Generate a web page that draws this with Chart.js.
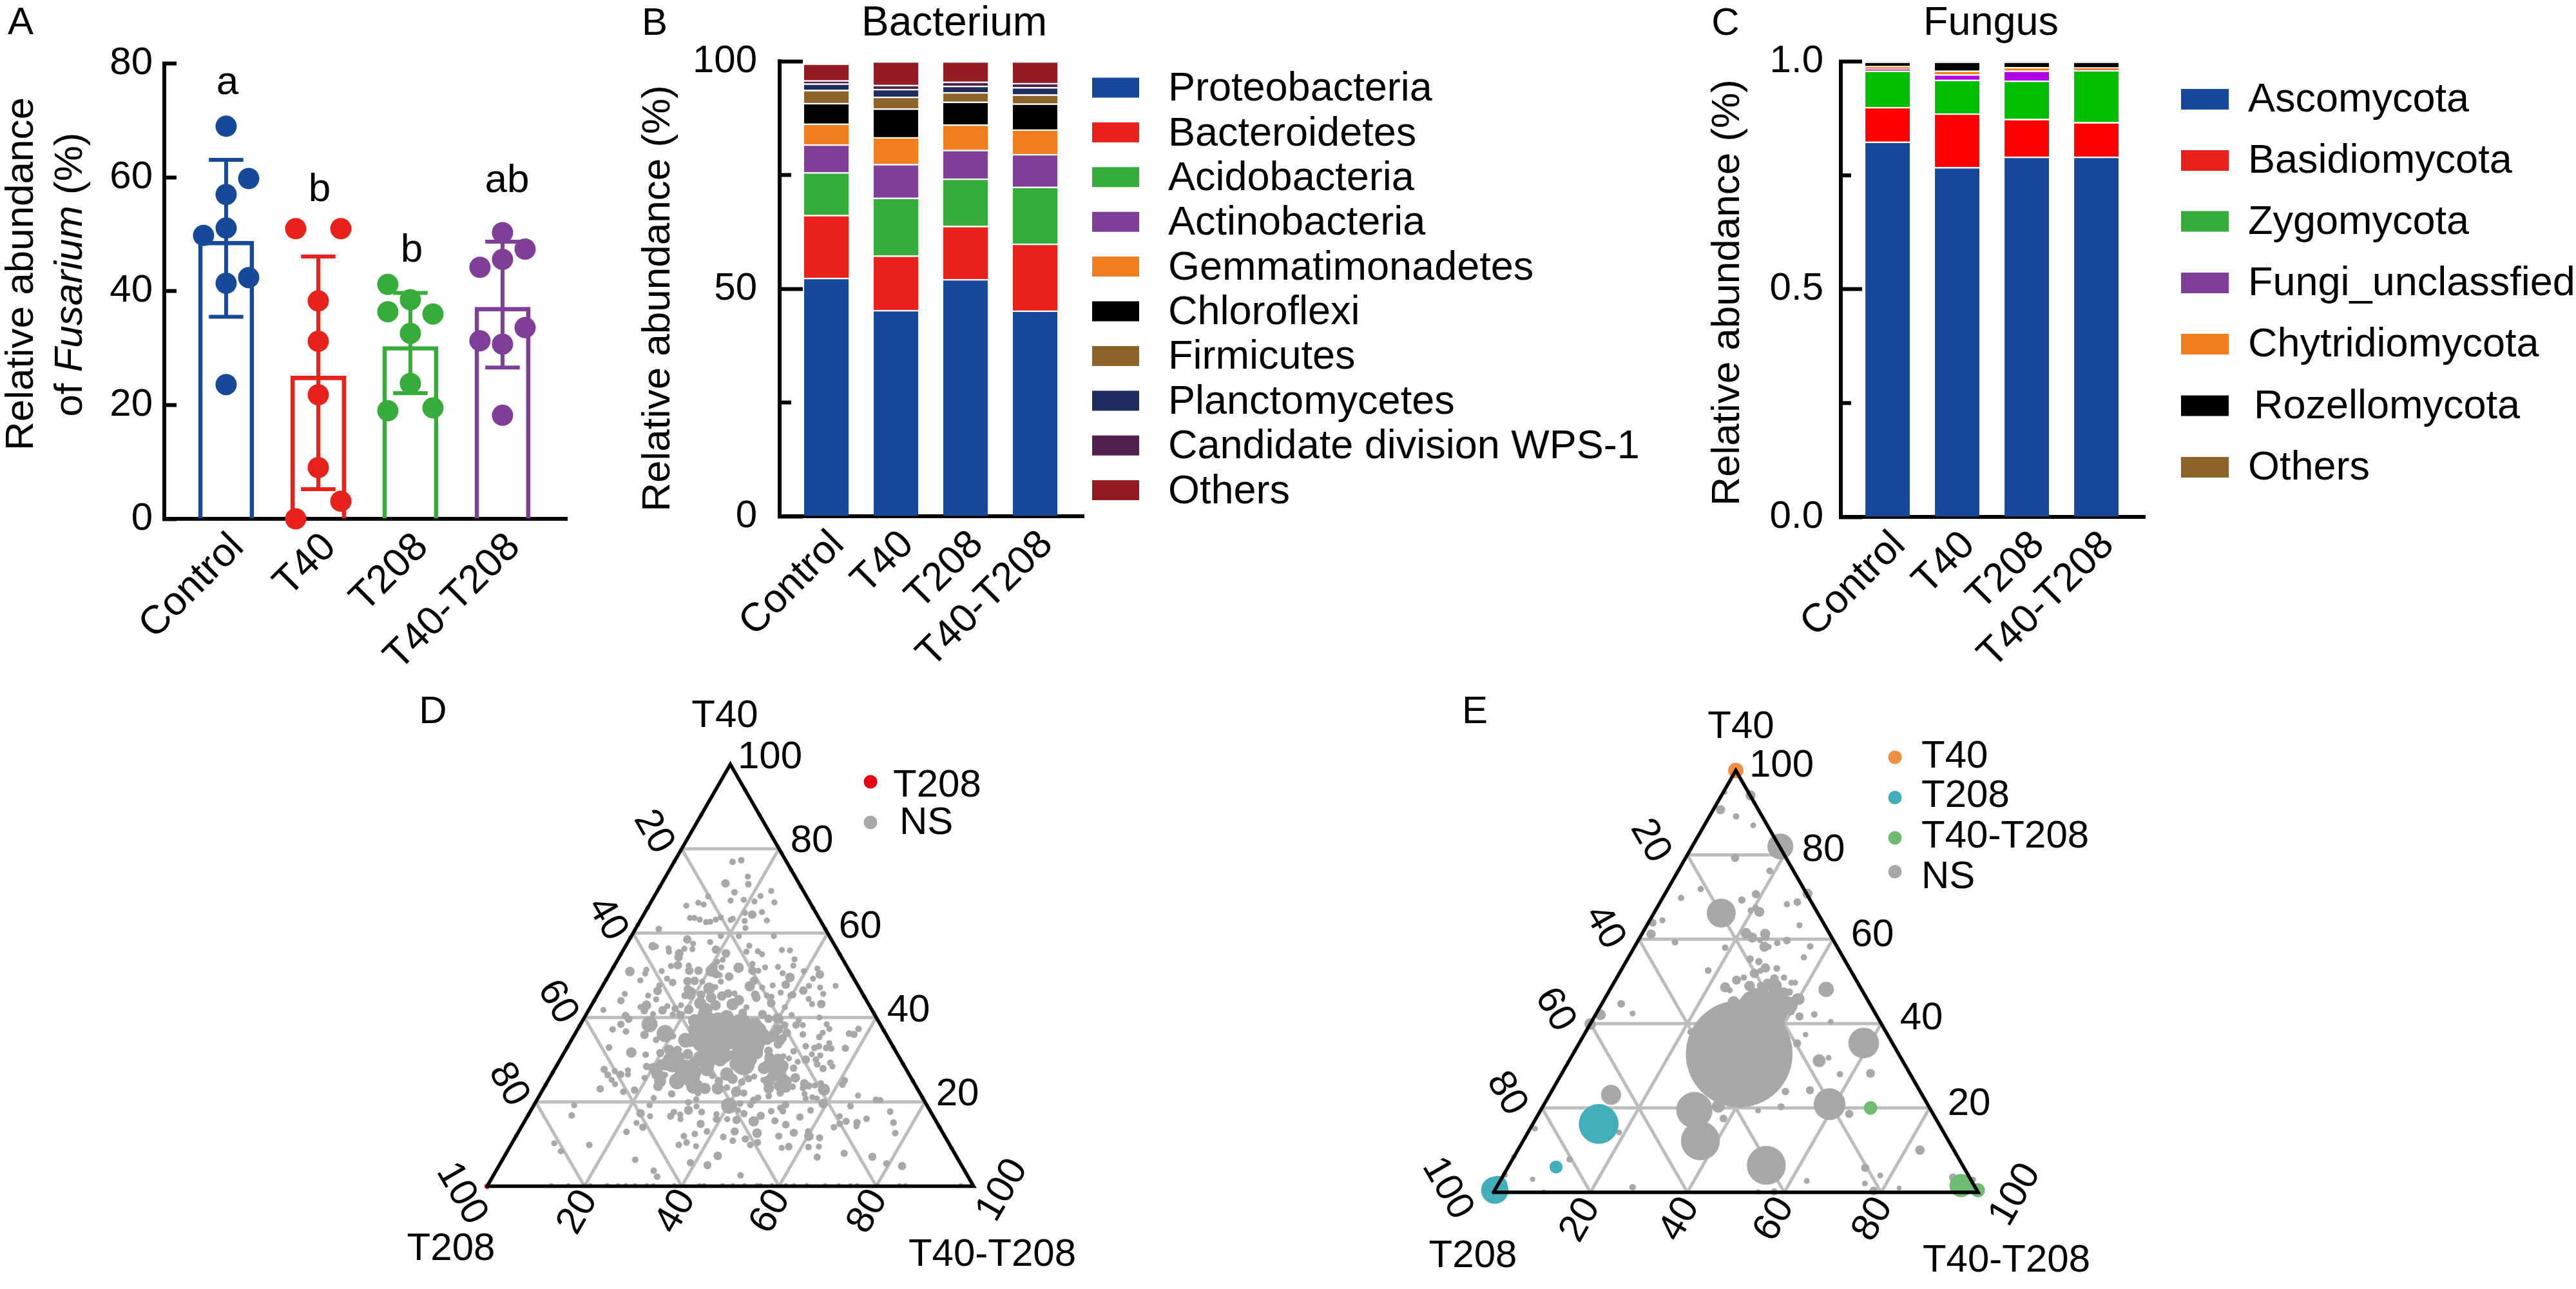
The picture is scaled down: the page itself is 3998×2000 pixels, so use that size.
<!DOCTYPE html>
<html><head><meta charset="utf-8">
<script src="https://cdn.jsdelivr.net/npm/chart.js@4"></script>
<style>html,body{margin:0;padding:0;background:#fff;width:3998px;height:2000px;overflow:hidden}canvas{position:absolute}</style>
</head><body>
<script>
const treatments = ['Control','T40','T208','T40-T208'];
const fusariumMean = [48.8,25.1,30.3,37.2];
const fusariumHigh = [63.1,46.1,39.7,48.7];
const fusariumLow = [35.5,5.2,22.1,26.6];
const fusariumDots = [
 [69,59.8,57,51.1,49.8,42.4,41.4,23.6],
 [51,51,38.3,31.2,21.8,9,3.1,0],
 [41.2,38.5,36.4,36,32.6,23.8,19,19.5],
 [50.3,47.4,45.6,44.2,33.6,31.3,30.7,18.2]];
const fusariumSlots = [
 [0,1,0,0,-1,1,0,0],[-1,1,0,0,0,0,1,-1],[-1,0,-1,1,0,0,-1,1],[0,1,0,-1,1,-1,0,0]];
const significance = ['a','b','b','ab'];

const bacteriaNames = ['Proteobacteria','Bacteroidetes','Acidobacteria','Actinobacteria','Gemmatimonadetes','Chloroflexi','Firmicutes','Planctomycetes','Candidate division WPS-1','Others'];
const bacteriaValues = [
 [52.4,45.3,52.1,45.2],[13.8,12.0,11.7,14.7],[9.4,12.7,10.4,12.5],[6.1,7.4,6.3,7.2],[4.6,5.9,5.6,5.4],
 [4.5,6.3,5.0,5.7],[2.9,2.6,2.1,2.0],[1.4,1.7,1.4,1.6],[0.7,0.9,0.9,0.9],[3.7,5.2,4.5,4.8]];
const fungiNames = ['Ascomycota','Basidiomycota','Zygomycota','Fungi_unclassfied','Chytridiomycota','Rozellomycota','Others'];
const fungiValues = [
 [.824,.768,.791,.791],[.076,.118,.083,.076],[.080,.074,.084,.114],[.004,.012,.022,.001],
 [.006,.008,.008,.005],[.010,.020,.012,.013],[0,0,0,0]];
const ternaryGrid = [20,40,60,80];

// [T40 %, T40-T208 %, abundance]
const bactT208 = [[0,0,.8]];
const bactCore = [
[37.7,24.9,5],[39.7,25.8,5],[37.2,28.9,5],[38.2,30.2,5],[37.7,32,5],[39.2,33.1,5],[36.7,35.8,5],[37.2,37.4,5],[35.1,39.9,5],[33.6,38.2,5],[31.6,37.3,5],[31.1,35.7,5],[34.1,33.3,5],[34.1,31.4,5],[35.1,29,5],[36.2,26.5,5],[37.2,24.1,5],[34.6,24.5,5],[33.6,26.9,5],[32.1,29.6,5],[30,32.9,5],[30,31,5],[30.5,28.5,5],[29,36.7,5],[30,39.1,5],[33.1,39,5],[35.6,41,4],[37.2,41.2,3],[34.6,42.9,3],
[28.5,43.6,5],[26.5,46,4],[28.5,46.5,4],[30,44.8,4],[24.9,45.4,4],[24.9,49.1,3],[23.9,48.2,4],
[27.5,21,4],[26,22.6,4],[27.5,27,4],[27,29.2,5],[24.9,29.4,5],[23.9,31.2,4],[28.5,27,4],[29,22.5,5],[30.5,24.1,4],[27.5,31.4,4]];
const bactNS = [
[77.3,13.6,1.2],[76.9,12,1.2],[73.4,16.9,1],[71.6,17.9,1.2],[71.8,13.1,2],[69.7,16,1.2],[70,23.4,1],[68.8,21.8,1],[67.3,25.4,1],[68.7,11.1,1],[67.7,16.2,1],[67.9,18.8,1],[67.5,21.2,1],[67.2,9.8,1],[66.8,11.1,1],[66.5,7.7,1],[65,24,1],[64.8,20.6,1],[64.4,22.3,2],[63,26,1],[62.9,21.5,1],[61.2,22.5,1],[63.6,9.9,1],[63.6,10.8,1],[63.2,12.1,1],[62.6,13.7,1],[62.7,14.5,1],[63.2,15.4,1],[63.7,16.2,1],[63.1,18.5,1],[63.4,18.8,1],[61,4.8,1.2],[59.3,29.3,1],[59.3,22.1,1],[59.3,18.4,1],[58.5,11.9,2],[57.5,13.6,1],[57.9,16.9,1],[56.9,5.6,2],[56.8,6.3,1],[56.4,9.1,1],[55.6,9.6,1],[56.3,12.4,1],[56.2,14.1,1],[55.2,11.9,2],[54.3,12.2,2],[56.1,19,2],[55.2,21.5,2],[57,25.4,1],[55.6,25.5,1],[55.7,27.8,1],[55,29,1],[56,32.6,1],[55.9,34.3,1],[53.8,36.3,1],[52.3,36.8,1],[52,33.8,1],[51.9,31.2,1],[52.7,28.2,1],[51.8,25.8,3],[51.9,22.2,1],[53.7,21.6,1],[53.2,20.7,1],[51.1,20.6,4],[52,20.5,2],[50.3,21.9,2],[50,22.8,1],[48.5,23.8,1],[49.7,24.9,2],[51.1,17.9,2],[52.3,15.3,1],[51.1,16,2],[52.4,13,2],[52.2,11.7,1],[51,10.4,1],[50.9,3.9,2.5],[51.3,7.1,1],[50.4,7.3,1],[48.8,7.1,1],[49.2,12.4,1],[48.3,14,1.5],[48.6,16.9,2],[48.7,18.3,2],[48.5,20,1],[51.1,29,2],[51.1,30.2,1],[50.5,35.5,1],[49.5,37.5,2.5],[51,39.6,1],[51.6,42.1,1],[50.2,43.3,2],[49.2,42.4,1],[47.5,47.9,1],[47.1,44.9,1],[47.5,42.4,1],[46.4,41.8,2],[45.6,46.3,1],[47.8,37.5,2],[47.6,34.9,1],[48.7,30.5,2],[47.4,30.3,3],[47.1,33,1],[45.9,37.4,1],[45.4,40.1,1.5],[44.4,43.9,1],[43.2,45.2,1],[43.2,47.1,2],[40,48.3,1],[47.6,11.6,1],[46.3,11.9,2],[45.2,10.5,1],[44.3,12.6,1],[45.6,5.5,1],[44,5.5,1.5],[41.8,3,1],[42.7,15.7,1],[41.7,15.2,2],[42.9,11.3,2.5],[42.5,10.3,1],[41.6,11.5,1.5],[40.8,13.7,1],[40.5,8.2,1.5],[39.6,9.3,1.5],[42.9,18.4,1],[42.1,17.6,1.5],[41.9,20.5,2.5],[40.6,19.4,2],[40.7,17.8,1],[46.7,17.9,2],[46.2,18.9,2],[45.2,18.1,1.5],[45.2,19.2,2],[46.9,22.2,4],[47.2,23.3,1],[45.4,21.3,2],[44.7,23.7,3],[43.4,22.1,4],[41.9,24,5],[42.9,25.5,3],[45.1,25.7,2.5],[45.7,26.7,2],[45.7,28,1],[44.1,29.7,3],[43.1,28.9,4],[45.4,32.4,2],[44.7,33,2],[45.2,34.9,1],[43.4,36.7,2],[44.9,36,1],[45.2,39.7,1],[42.4,40,1],[39.8,39.8,3],[40.8,36.2,2],[40.6,42.3,1],[42.4,32.1,1],[41.1,32,2],
[39.2,23.1,5],[40.7,24.3,5],[37.7,26.8,7],[39.2,27.9,8],[40.2,29.2,5],[36.7,30.1,8],[35.6,25.4,7],[34.6,23.5,6],[34.1,28,7],[32.1,31,12],[39.2,32.1,5],[37.2,34.5,8],[36.2,33.1,8],[38.2,35.9,6],[35.6,38.6,8],[34.6,36.8,8],[33.1,35.6,7],[32.1,38,7],[29,38.2,14],[31.6,39.7,4],[34.1,32.7,5],[31.1,33.3,6],[28.5,30.9,6],[29.3,28,4],[29,26.3,2],[29.5,23.4,12],[32.3,21.3,3],[32.3,23,2],[31.3,25.6,3],[28.8,21.5,3.5],[28,20.2,3],[28.4,18.6,1.5],[26.5,21.6,3],[24.9,23.1,4],[23.7,23.3,2.5],[26.4,23.4,1],[24.9,26.6,7],[26.6,26,1.5],[26,29,8],[23.7,30.6,6],[22.1,32.3,1.2],[23.2,33.2,3.5],[23.2,35.8,4],[24.9,35.2,2],[26.6,36,5],[25.5,37.7,3],[26.2,33.2,1.2],[22.4,40,3],[22.1,41.7,1.5],[23.4,37.6,1.2],[24.7,40,1.5],[25.5,41,1.5],[26,41.9,1],[25.2,44.2,1],[23.2,46.3,3],[21.4,47.2,1.2],[22.1,49.2,1.5],[23.4,49.7,3],[23.6,51,1.2],[25.7,50.5,2.5],[25.7,47.9,3],[26,45.6,3],[28,45.8,9],[28,42.9,4],[30.5,42.8,3],[32.1,41.8,2],[30.8,45.5,1],[30.3,46.9,1],[28,49,1.5],[32,47,1.2],[29.5,49.1,1],[30,50.5,2],[33.2,48.9,1.2],[32.8,50.9,1.2],[33.2,51.6,1.2],[31.3,51.1,1],[31,53,1],[30,52.6,1.2],[28.9,53.4,1.2],[27.9,55.1,1.5],[29.3,55.9,1.2],[28.4,56.8,1],[32.8,53.3,1.2],[32.7,54.4,1.2],[33.9,53.4,1],[32.7,57.3,1.5],[35.4,50.6,1.2],[36.4,50.8,1],[37.3,51.7,1],[38.4,50.6,1],[36,46.9,1.2],[38.2,45.8,1],[38.2,44.4,1.5],[39.3,44.4,1],[36.2,56.3,1.2],[36,57.4,1.5],[37.3,57.7,1.2],[36.4,43.4,2],[33.6,43,2],[35.1,43.2,2],[36.2,40.9,1.2],[39.7,40,3],[39.7,38,2],[40.7,36.1,1.2],[38.2,42.1,1.5],
[38.4,14.2,7],[36.2,18.5,8],[35.9,14.4,2],[34.7,17.4,1.2],[35.6,20.4,1.2],[40.4,8.3,1.5],[39.6,9.3,1.5],[38.4,8.3,1.5],[37.2,7.2,1.2],[36.7,10.2,1.2],[32.9,8.6,1.2],[31.7,13.8,3],[31.2,17,1.2],[31.6,19.8,1.8],[27.7,10.2,1.5],[26.4,11.6,1.3],[25.2,13,1],[24.2,14.2,1],[27.3,12.6,1],[26.5,14.2,1.5],[27.5,15.2,1],[26.5,15.7,1],[23.1,11.7,1.5],[22.4,16.8,1.2],[22.8,18.9,1.5],[25.7,19.5,1],[21.9,27,1.5],[20.9,23.8,1],[20.6,32.7,1],[19.9,31.4,1.2],[18.9,33.6,1],[19.2,23.8,1],[19.2,8.3,1],[16.8,9,1.2],[17.3,22.9,2],[16.6,25.2,1],[15,23.2,1],[14,25,1.5],[12.9,22.2,1.2],[9.8,16.1,1.2],[10.2,8.7,1],[8.3,11,1],[6.3,27.3,1.2],[3.7,32.4,1.2],[2.3,33.8,1.2],[5.6,39,1.5],[5,42.8,1.8],[7.2,43.8,2],[2.6,50.8,1.2],[9.8,34.5,1.2],[10.4,35.8,1.2],[11.9,34.5,1.2],[12.4,36.5,1.2],[9.5,38.2,1],[13,38.7,1.2],[14.8,36.5,1.8],[17.6,35.3,1.3],[18,32.4,2.2],[17.6,29.6,1.2],[16.6,29.4,1.4],[17,31.2,1],[15.9,31.8,1],[17.1,38.6,1],[15.9,39.2,1.5],[15.9,41.4,1],[19.1,40.2,7],[18,42.6,1],[19.6,42.2,1.2],[17.2,44.2,1.5],[15.7,43.4,1.8],[13,44.4,1.8],[11.7,42.7,1.2],[10.8,45.1,1.2],[11.2,47.5,1.5],[9.8,49.2,1.2],[10.4,50.4,1.4],[12.6,49.2,2.5],[15.4,47.1,3],[16.7,47.9,1.8],[19.3,44.5,1.2],[20.4,44.6,1.5],[21,45.2,1.2],[17.8,49.5,1.2],[15.5,51.4,1.4],[18.6,51,1.2],[17.8,51.9,1.2],[19.3,51.7,1.5],[14.6,54.1,1.6],[16.4,56.1,1.5],[18,57.5,1.2],[11.9,54,1.4],[12.7,56.7,1.8],[9.4,57.3,1.6],[9.1,56,1],[13,59.5,1.2],[11.9,60.2,2.5],[11.5,62.6,1.4],[9.3,61.4,1.2],[9.4,63.5,1],[6.9,64.4,1.4],[7.8,69.5,1.4],[7,75.7,1.8],[5.4,79.4,1.2],[4.8,82.9,1.8],[14,64.3,1.2],[16.6,64.2,1],[14.8,65.1,1.2],[15.4,66.1,1.4],[15.1,68.5,1.5],[14.2,68.8,1],[16,70,1.2],[19,65.2,1.2],[21.5,65.5,1],[20.5,69.7,1.2],[20.4,70.6,1.2],[17.7,74,1.2],[15.1,76,1.2],[12.6,77.6,1.2],[19.6,59.3,2.5],[22.9,57.8,4],[24.4,56.4,1.2],[23.9,55.4,1],[23.8,54.2,1.5],[24.4,53,2],[23.3,53.3,1.2],[21.9,54.3,1],[20.8,55.1,1],[21.1,56.3,1],[20.8,57.4,1],[25.1,60.9,1.4],[24.1,61,1.2],
[.2,13.1,.6],[.2,16.6,.6],[.2,19.9,.6],[.2,21.1,.6],[.2,24.6,.6],[.2,26.8,.6],[.2,28.4,.6],[.2,30.3,.6],[.2,32.7,.6],[.2,34.1,.6],[.2,38.4,.6],[.2,43.6,.6],[.2,44.5,.6],[.2,48.3,.6],[.2,50.4,.6],[.2,52.8,.6],[.2,55.4,.6],[.2,56.1,.6],[.2,58.5,.6],[.2,61.3,.6],[.2,63,.6],[.2,65.6,.6],[.2,69.4,.6],[.2,72.2,.6],[.2,74.6,.6],[.2,76,.6],[.2,80,.6],[.2,84.7,.6],[.2,85.9,.6],[.2,97.3,.6],
[12,0,.6],[17,0,.6],[24,0,.6],[27,0,.6],[33,0,.6],[38,0,.6],[44,0,.6],[49,0,.6],[52,0,.6],[55,0,.6],[59,0,.6],[62,0,.6],[66,0,.6],[71,0,.6],[77,0,.6],[88,0,.6],
[9,91,.6],[14,86,.6],[21,79,.6],[25,75,.6],[29,71,.6],[33,67,.6],[37,63,.6],[41,59,.6],[45,55,.6],[50,50,.6],[55,45,.6],[61,39,.6],[66,34,.6],[71,29,.6],[75,25,.6],[79,21,.6],[88,12,.6],[94,6,.6]];

const fungiT40 = [[100,0,7]];
const fungiT208 = [[.5,0,22],[1.6,.1,11],[16.2,13.6,47],[6,9.9,5]];
const fungiBoth = [[20,67.8,5.5],[1.6,95.7,16],[.5,99.7,6]];
const fungiNS = [
[32.8,34.3,339],[42.9,33.3,60],[42.9,36.5,22],[45.1,37.8,5],[45.8,39.8,4],[49.3,33.4,4],[48.8,31.8,3],[46.5,31,8],[44.2,27.5,5],[47.4,36.2,3],[42.9,39.9,2],[40.1,38.9,4],[35.4,58.7,28],[31.2,51.6,5],[31.9,53.2,1],[35.3,45,2],[37.4,45.7,.9],[41.7,42.3,2],[42.2,45.1,1.3],[40.4,49.4,1],[28.2,63.7,2.3],[28,57.5,1.2],[23.9,48.3,1.7],[24.2,53.2,2],[20.9,58.9,30],[18.6,64.1,2],[20.3,49.2,1.5],[19.4,44.9,1],[20.4,36.2,5],[17.5,38.7,1.8],[19.5,31.7,39],[12.2,36.6,45],[6.4,53.1,45],[23.1,12.7,12],[10,83,2.7],[5.8,73.8,2],[4,77.8,1],[2.1,75.6,1],[.3,78.3,2.3],[1,83.2,.7],[2.7,63.3,1],[.1,57.9,1.5],[.1,54.6,.8],[1.2,28.1,1.3],[.1,10.3,.6],[3.1,6.5,.8],[7.8,11.8,1.2],[8.4,0,.8],[15.1,1,1],[14.2,18.8,1],[4.1,.3,1],[44.7,4,1.8],[42.4,7.5,1],[42.1,1,3.5],[39.9,0,4],[33.4,0,.6],[38,21.6,1],[3.5,93.1,2],[3,97.5,1],
[82,18.2,20],[79.3,10.2,2],[76.2,18.9,1.4],[71.9,6.8,1.2],[69.8,3.8,1.2],[70.7,18.8,2],[69.3,16.6,1.6],[70.8,29.4,3],[68.8,28.3,1.8],[68.3,26.4,1.2],[66.2,13.9,25],[66.5,21.6,3],[66.8,19.7,1.2],[67.5,20.3,1.2],[64.5,2.6,1.1],[63.9,.9,1.8],[61.2,1.9,2.6],[63.3,31.5,1.1],[59.3,7.8,1.3],[58,18.8,1.3],[61.4,21.4,3.4],[60.4,23.2,3],[61.3,25.4,3],[60.5,25.9,1.8],[59.8,25.1,1.1],[58.2,26.8,3],[58.2,27.7,1],[59.1,29,1.2],[59.7,30.7,1.8],[58.3,36.2,1.3],[55.7,36.2,1.2],[55.3,25.3,1.6],[54.7,27.4,1.6],[53.2,29.5,2.6],[52.5,28.8,1.1],[53.1,31.9,1.4],[51.9,27.9,2.6],[52.6,18,1.4],[50.3,25,2.4],[50.9,26.2,1.2],[48.9,28.4,3.4],[48.6,23.5,3],[47.9,24.8,1.1],[49,30.6,1.6],[49.4,31.9,3.4],[50.7,32.6,2.2],[50.9,34.5,1.2],[49.7,36.6,1.1],[49.7,37.4,1],[48.9,33.5,6.7],[47.5,37.3,1.6],[48.1,44.6,7],[45.1,27,4.3],[45.8,40.1,4],[44.3,38.8,9],[44.8,31.9,20],[45.3,36.2,14],[46.3,29.5,3.4],
[90.7,1.5,2.5],[89.1,5.5,1.2],[87,10.1,1],[94.1,6,3],[94.8,.4,.5],[92.3,7.7,.5]];

const BLUE='#17499a',RED='#e8211b',GREEN='#36ad3a',PURPLE='#7f3f98',ORANGE='#f07e1e',BROWN='#8d6329',NAVY='#1f2c5e',PLUM='#53204f',WINE='#951c23',GREY='#a9a8a9';
const FONT='"Liberation Sans"';
Chart.defaults.font.family=FONT;
Chart.defaults.color='#000';

function place(box){
  const c=document.createElement('canvas');
  c.width=box[2];c.height=box[3];
  c.style.left=box[0]+'px';c.style.top=box[1]+'px';c.style.width=box[2]+'px';c.style.height=box[3]+'px';
  document.body.appendChild(c);
  return c.getContext('2d');
}
function overlay(box,spec){
  return {id:'overlay',afterDraw(chart){
    const g=chart.ctx;g.save();g.translate(-box[0],-box[1]);
    g.fillStyle='#000';g.textBaseline='middle';
    (spec.swatches||[]).forEach(s=>{g.fillStyle=s.c;g.fillRect(s.x,s.y-s.h/2,s.w,s.h);});
    (spec.dots||[]).forEach(d=>{g.fillStyle=d.c;g.beginPath();g.arc(d.x,d.y,d.r,0,Math.PI*2);g.fill();});
    g.fillStyle='#000';
    (spec.texts||[]).forEach(t=>{
      g.save();g.translate(t.x,t.y);g.rotate((t.rot||0)*Math.PI/180);
      g.font=(t.size||60)+'px '+FONT;g.textAlign=t.align||'center';g.fillText(t.t,0,0);g.restore();
    });
    if(spec.minor){spec.minor(chart,g,box);}
    if(spec.after){spec.after(chart,g);}
    g.restore();
  }};
}
function minorTicks(values,len){
  return (chart,g,box)=>{
    const y=chart.scales.y,x0=chart.chartArea.left+box[0];
    g.strokeStyle='#000';g.lineWidth=6;
    values.forEach(v=>{const p=y.getPixelForValue(v)+box[1];g.beginPath();g.moveTo(x0,p);g.lineTo(x0+len,p);g.stroke();});
  };
}
function xAxis(min,max,height){
  return {type:'linear',min,max,stacked:true,offset:false,
    afterFit(s){s.height=height;},
    afterBuildTicks(s){s.ticks=treatments.map((_,i)=>({value:i}));},
    grid:{display:false,drawTicks:false,tickLength:0},
    border:{display:true,color:'#000',width:6},
    ticks:{autoSkip:false,minRotation:45,maxRotation:45,padding:8,labelOffset:18,font:{size:62},color:'#000',callback:v=>treatments[v]}};
}
function yAxis(width,tickLen,pad,fmt,step,max,labelled){
  return {type:'linear',min:0,max,stacked:true,
    afterFit(s){s.width=width;s.paddingTop=0;s.paddingBottom=0;},
    grid:{drawOnChartArea:false,tickLength:-tickLen,tickWidth:6,tickColor:c=>labelled(c.tick.value)?'#000':'rgba(0,0,0,0)'},
    border:{display:true,color:'#000',width:6},
    ticks:{stepSize:step,padding:pad,font:{size:60},color:'#000',autoSkip:false,callback:v=>labelled(v)?fmt(v):''}};
}

/* ---------- Panel A ---------- */
(function(){
  const box=[0,0,985,1060];
  const cols=[BLUE,RED,GREEN,PURPLE];
  const capHalf=.187, slot=.245;
  const datasets=[{type:'bar',order:3,data:fusariumMean.map((y,i)=>({x:i,y})),backgroundColor:'rgba(0,0,0,0)',borderColor:cols,borderWidth:{top:6,left:6,right:6,bottom:0},borderSkipped:false,barThickness:86,clip:false}];
  cols.forEach((c,i)=>{
    const h=fusariumHigh[i],l=fusariumLow[i];
    datasets.push({type:'scatter',order:2,showLine:true,spanGaps:false,pointRadius:0,borderColor:c,borderWidth:6,clip:false,
      data:[{x:i-capHalf,y:h},{x:i+capHalf,y:h},{x:i,y:null},{x:i,y:h},{x:i,y:l},{x:i,y:null},{x:i-capHalf,y:l},{x:i+capHalf,y:l}]});
    datasets.push({type:'scatter',order:1,pointRadius:16.5,pointBackgroundColor:c,pointBorderWidth:0,clip:false,
      data:fusariumDots[i].map((y,k)=>({x:i+fusariumSlots[i][k]*slot,y}))});
  });
  const y=yAxis(255,19,37,v=>String(v),20,80,()=>true);
  y.stacked=false;
  const x=xAxis(-.671,3.70,255);x.stacked=false;
  new Chart(place(box),{type:'bar',data:{datasets},plugins:[overlay(box,{
    texts:[{t:'A',x:32,y:36,size:60},{t:'Relative abundance',x:34,y:425,size:62,rot:-90},
      {t:significance[0],x:353,y:129,size:62},{t:significance[1],x:496,y:295,size:62},{t:significance[2],x:639,y:389,size:62},{t:significance[3],x:787,y:281,size:62}],
    after(chart,g){
      const parts=[['of ',''],['Fusarium','italic '],[' (%)','']];
      let tot=0;parts.forEach(p=>{g.font=p[1]+'62px '+FONT;tot+=g.measureText(p[0]).width;});
      g.save();g.translate(110,426);g.rotate(-Math.PI/2);g.textAlign='left';g.textBaseline='middle';g.fillStyle='#000';
      let cx=-tot/2;parts.forEach(p=>{g.font=p[1]+'62px '+FONT;g.fillText(p[0],cx,0);cx+=g.measureText(p[0]).width;});
      g.restore();
    }})],
    options:{responsive:false,animation:false,devicePixelRatio:1,layout:{padding:{left:0,top:98.7,right:105,bottom:0}},
      plugins:{legend:{display:false},tooltip:{enabled:false}},scales:{x,y}}});
})();

function stackPanel(box,names,values,barCols,right,topPad,height,xmin,xmax,yOpt,spec){
  const datasets=names.map((n,k)=>({label:n,data:values[k].map((y,i)=>({x:i,y})),backgroundColor:barCols[k],borderColor:'#fff',
    borderWidth:{top:2.5,left:0,right:0,bottom:0},borderSkipped:false,barThickness:69}));
  new Chart(place(box),{type:'bar',data:{datasets},plugins:[overlay(box,spec)],
    options:{responsive:false,animation:false,devicePixelRatio:1,layout:{padding:{left:0,top:topPad,right,bottom:0}},
      plugins:{legend:{display:false},tooltip:{enabled:false}},scales:{x:xAxis(xmin,xmax,height),y:yOpt}}});
}
/* ---------- Panel B ---------- */
(function(){
  const box=[985,0,1665,1060];
  const cols=[BLUE,RED,GREEN,PURPLE,ORANGE,'#000',BROWN,NAVY,PLUM,WINE];
  const sw=cols.map((c,i)=>({c,x:1695,y:136+69.4*i,w:73,h:31}));
  const tx=bacteriaNames.map((t,i)=>({t,x:1813,y:139+69.35*i,size:63,align:'left'}));
  stackPanel(box,bacteriaNames,bacteriaValues,cols,2650-1682,95,259,-(1282.5-1210)/108,(1682-1282.5)/108,
    yAxis(1210-985,36,71,v=>String(v),25,100,v=>v%50===0),
    {swatches:sw,texts:[{t:'B',x:1016,y:37,size:60},{t:'Bacterium',x:1481,y:37,size:64},{t:'Relative abundance (%)',x:1022,y:463,size:62,rot:-90},...tx],minor:minorTicks([25,75],18)});
})();
/* ---------- Panel C ---------- */
(function(){
  const box=[2650,0,1348,1060];
  const barCols=[BLUE,'#ff0000','#00bf00','#b000e6','#ff7f00','#000',BROWN];
  const legCols=[BLUE,RED,GREEN,PURPLE,ORANGE,'#000',BROWN];
  const ys=[154,249,343.5,439,534,629.5,725];
  const sw=legCols.map((c,i)=>({c,x:3385,y:ys[i],w:74,h:32}));
  const tx=fungiNames.map((t,i)=>({t,x:t==='Rozellomycota'?3498:3489,y:ys[i]+2,size:63,align:'left'}));
  stackPanel(box,fungiNames,fungiValues,barCols,3998-3329,95.5,258,-(2929.6-2857)/108,(3329-2929.6)/108,
    yAxis(2857-2650,33,60,v=>v.toFixed(1),.25,1,v=>Math.abs(v*2-Math.round(v*2))<1e-6),
    {swatches:sw,texts:[{t:'C',x:2678,y:37,size:60},{t:'Fungus',x:3090,y:37,size:63},{t:'Relative abundance (%)',x:2682,y:454,size:62,rot:-90},...tx],minor:minorTicks([.25,.75],16)});
})();

/* ---------- Ternary panels ---------- */
const toXY=p=>({x:p[1]+p[0]/2,y:p[0],w:p[2]});
function ternary(box,pad,groups,spec,k){
  const ds=[];
  ds.push({order:0,showLine:true,pointRadius:0,borderColor:'#000',borderWidth:5.5,clip:false,borderCapStyle:'round',borderJoinStyle:'miter',
    data:[[0,0],[100,0],[0,100],[0,0]].map(p=>toXY([p[0],p[1],0]))});
  groups.forEach(g=>ds.push({order:g.order,data:g.pts.map(toXY),pointBackgroundColor:g.c,pointBorderWidth:0,clip:false,
    pointRadius:c=>k*Math.sqrt(c.raw.w)}));
  ternaryGrid.forEach(v=>{
    [[[v,0,0],[v,100-v,0]],[[0,v,0],[100-v,v,0]],[[0,100-v,0],[100-v,0,0]]].forEach(seg=>
      ds.push({order:9,showLine:true,pointRadius:0,borderColor:'#bdbdbd',borderWidth:5,clip:false,data:seg.map(toXY)}));
  });
  new Chart(place(box),{type:'scatter',data:{datasets:ds},plugins:[overlay(box,spec)],
    options:{responsive:false,animation:false,devicePixelRatio:1,layout:{padding:pad},
      plugins:{legend:{display:false},tooltip:{enabled:false}},
      scales:{x:{type:'linear',min:0,max:100,display:false},y:{type:'linear',min:0,max:100,display:false}}}});
}
ternary([600,1060,1200,940],{left:156,right:289,top:126,bottom:159.4},
  [{pts:bactNS.concat(bactCore),c:GREY,order:5},{pts:bactT208,c:'#e60012',order:4}],
  {dots:[{c:'#e60012',x:1351,y:1213,r:10.5},{c:GREY,x:1351,y:1276,r:10.5}],
   texts:[{t:'D',x:672,y:1105},{t:'T40',x:1125,y:1111},{t:'T208',x:700,y:1938},{t:'T40-T208',x:1540,y:1947},
    {t:'T208',x:1386,y:1219,align:'left'},{t:'NS',x:1396,y:1277,align:'left'},
    {t:'100',x:1195,y:1175},{t:'80',x:1260,y:1305},{t:'60',x:1335,y:1438},{t:'40',x:1410,y:1568},{t:'20',x:1486,y:1698},
    {t:'20',x:1014,y:1291,rot:60},{t:'40',x:942,y:1426,rot:60},{t:'60',x:865,y:1555,rot:60},{t:'80',x:789,y:1683,rot:60},{t:'100',x:716,y:1852,rot:60},
    {t:'20',x:897,y:1881,rot:-60},{t:'40',x:1049,y:1880,rot:-60},{t:'60',x:1196,y:1880,rot:-60},{t:'80',x:1347,y:1880,rot:-60},{t:'100',x:1556,y:1847,rot:-60}]},4.7);
ternary([2200,1060,1100,940],{left:118,right:230,top:135.5,bottom:150},
  [{pts:fungiNS,c:GREY,order:5},{pts:fungiT40,c:'#f28e3f',order:4},{pts:fungiT208,c:'#41aeba',order:4},{pts:fungiBoth,c:'#70bb72',order:4}],
  {dots:[{c:'#f28e3f',x:2941,y:1175,r:10.5},{c:'#41aeba',x:2941,y:1237.5,r:10.5},{c:'#70bb72',x:2941,y:1300,r:10.5},{c:GREY,x:2941,y:1352.5,r:10.5}],
   texts:[{t:'E',x:2289,y:1105},{t:'T40',x:2702,y:1128},{t:'T208',x:2286,y:1949},{t:'T40-T208',x:3114,y:1956},
    {t:'T40',x:2982,y:1174,align:'left'},{t:'T208',x:2982,y:1235,align:'left'},{t:'T40-T208',x:2982,y:1298,align:'left'},{t:'NS',x:2982,y:1361,align:'left'},
    {t:'100',x:2765,y:1188},{t:'80',x:2830,y:1319},{t:'60',x:2906,y:1451},{t:'40',x:2982,y:1580},{t:'20',x:3056,y:1713},
    {t:'20',x:2561,y:1305,rot:60},{t:'40',x:2490,y:1439,rot:60},{t:'60',x:2413,y:1567,rot:60},{t:'80',x:2338,y:1697,rot:60},{t:'100',x:2246,y:1844,rot:60},
    {t:'20',x:2453,y:1893,rot:-60},{t:'40',x:2607,y:1892,rot:-60},{t:'60',x:2754,y:1892,rot:-60},{t:'80',x:2907,y:1892,rot:-60},{t:'100',x:3128,y:1854,rot:-60}]},4.5);
</script>
</body></html>
